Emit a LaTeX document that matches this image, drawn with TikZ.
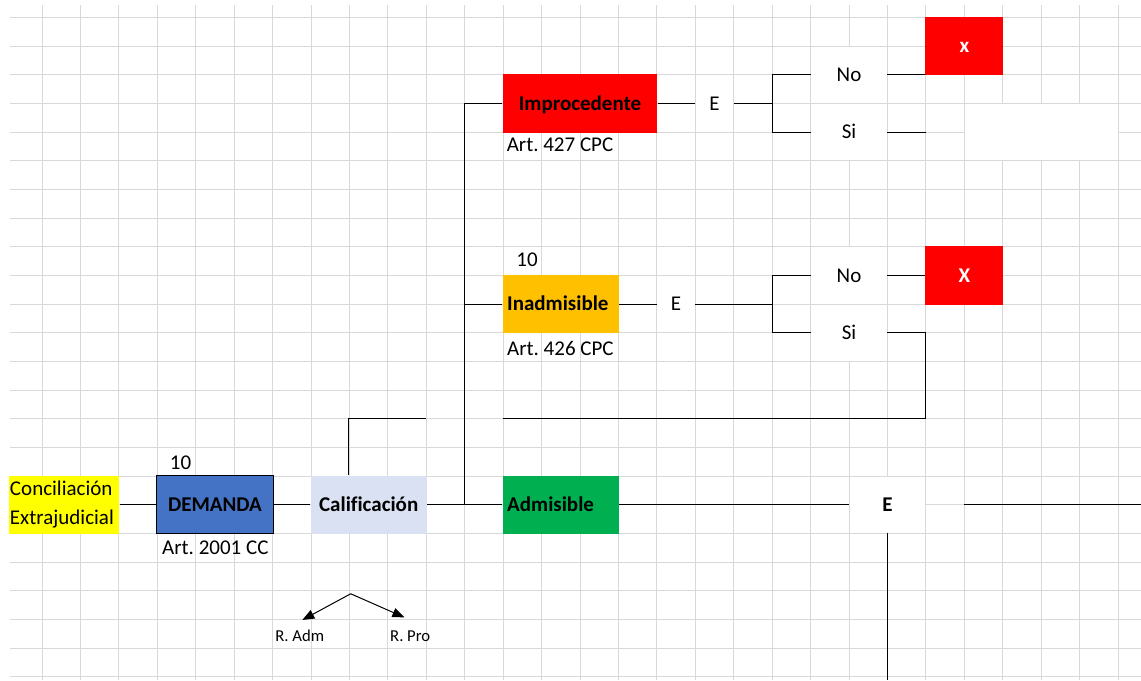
\documentclass[tikz,border=0pt]{standalone}
\usepackage{fontspec}
\setmainfont[Ligatures=NoCommon]{Carlito}
\frenchspacing
\usetikzlibrary{arrows.meta}
\definecolor{gridgray}{RGB}{217,217,217}
\definecolor{concilyellow}{RGB}{255,255,0}
\definecolor{demblue}{RGB}{68,114,196}
\definecolor{califblue}{RGB}{217,225,242}
\definecolor{admgreen}{RGB}{0,176,80}
\definecolor{inadmgold}{RGB}{255,192,0}
\definecolor{xred}{RGB}{255,0,0}
\tikzset{every picture/.style={line width=0.75pt}}
\tikzset{
  gridline/.style={draw=gridgray, line width=0.75pt},
  cellbox/.style 2 args={inner sep=0pt, minimum width=#1*28.82pt+0.75pt, minimum height=#2*21.495pt+0.75pt},
  whitecell/.style 2 args={inner sep=0pt, fill=white, minimum width=#1*28.82pt-0.8pt, minimum height=#2*21.495pt-0.8pt, oneline},
  oneline/.style={text height=10.1pt, text depth=0pt},
  leftcell/.style={align=left, text width=80.46pt, inner xsep=3pt},
  splitarrow/.style={-{Triangle[length=9pt,width=7pt]}}
}

\begin{document}
\begin{tikzpicture}[x=28.82pt,y=-21.495pt,font=\fontsize{15.75pt}{21.75pt}\selectfont]
	\useasboundingbox (-0.0937,-0.6106) rectangle (29.597,23.116);
	
	%Sheet grid
	\foreach \i in {1,...,29}
		\draw [gridline] (\i,-0.436) -- (\i,23.116) ;
	\foreach \j in {0,...,23}
		\draw [gridline] (0.1665,\j) -- (29.597,\j) ;
	%Shape: blank cells right of Si
	\fill [white] (25.014,3.02) rectangle (28.986,4.98) ;
	
	%Shape: Rectangle
	\node [cellbox={2.8335}{2}, fill=concilyellow, text width=81.66pt, align=left] (concil) at (1.583,17) {Conciliación\\Extrajudicial};
	%Shape: Rectangle
	\node [cellbox={3}{2}, oneline, fill=demblue, draw=black] (demanda) at (5.5,17) {\textbf{DEMANDA}};
	%Shape: Rectangle
	\node [cellbox={3}{2}, oneline, fill=califblue] (calif) at (9.5,17) {\textbf{Calificación}};
	%Shape: Rectangle
	\node [cellbox={3}{2}, oneline, leftcell, fill=admgreen] (admis) at (14.5,17) {\textbf{Admisible}};
	%Shape: Rectangle
	\node [cellbox={4}{2}, oneline, fill=xred] (improc) at (15,3) {\textbf{Improcedente}};
	%Shape: Rectangle
	\node [cellbox={3}{2}, oneline, leftcell, fill=inadmgold] (inadm) at (14.5,10) {\textbf{Inadmisible}};
	%Shape: Rectangle
	\node [cellbox={2}{2}, oneline, fill=xred, text=white] (xbox1) at (25,1) {\textbf{x}};
	%Shape: Rectangle
	\node [cellbox={2}{2}, oneline, fill=xred, text=white] (xbox2) at (25,9) {\textbf{X}};
	
	% Text Node
	\node [whitecell={1}{2}] (eimp) at (18.5,3) {E};
	% Text Node
	\node [whitecell={1}{2}] (einad) at (17.5,10) {E};
	% Text Node
	\node [whitecell={2}{2}] (eadm) at (23,17) {\textbf{E}};
	% Text Node
	\node [whitecell={2}{2}] (no1) at (22,2) {No};
	% Text Node
	\node [whitecell={2}{2}] (si1) at (22,4) {Si};
	% Text Node
	\node [whitecell={2}{2}] (no2) at (22,9) {No};
	% Text Node
	\node [whitecell={2}{2}] (si2) at (22,11) {Si};
	% Text Node
	\node [anchor=base east, inner sep=0pt] (demnum) at (4.895,15.76) {10};
	% Text Node
	\node [anchor=base west, inner sep=0pt] (demart) at (4.114,18.75) {Art. 2001 CC};
	% Text Node
	\node [anchor=base east, inner sep=0pt] (inadmnum) at (13.91,8.695) {10};
	% Text Node
	\node [anchor=base west, inner sep=0pt] (inadmart) at (13.09,11.78) {Art. 426 CPC};
	% Text Node
	\node [anchor=base west, inner sep=0pt] (improcart) at (13.08,4.68) {Art. 427 CPC};
	% Text Node
	\node [anchor=base, inner sep=0pt, font=\fontsize{12.5pt}{15pt}\selectfont] (radm) at (7.706,21.78) {R. Adm};
	% Text Node
	\node [anchor=base, inner sep=0pt, font=\fontsize{12.5pt}{15pt}\selectfont] (rpro) at (10.58,21.78) {R. Pro};
	
	\coordinate (califend) at (11,14);
	\coordinate (trunk) at (12,17);
	\coordinate (fork1) at (20,3);
	\coordinate (fork2) at (20,10);
	\coordinate (si1end) at (24,4);
	\coordinate (loopcorner) at (24,14);
	\coordinate (loopend) at (13,14);
	\coordinate (eadmout) at (25,17);
	\coordinate (rightend) at (29.597,17);
	\coordinate (downend) at (23,23.116);
	\coordinate (califsplit) at (9.032,20.105);
	\coordinate (radmtip) at (7.773,21.02);
	\coordinate (rprotip) at (10.43,20.93);
	
	%Straight Lines
	\draw (concil.east) -- (demanda.west) ;
	\draw (demanda.east) -- (calif.west) ;
	\draw ([xshift=28.82pt]calif.north west) |- (califend) ;
	\draw (calif.east) -- (admis.west) ;
	\draw (improc.west) -| (trunk) ;
	\draw (inadm.west) -- (inadm.west -| trunk) ;
	\draw (improc.east) -- (eimp.west) ;
	\draw (eimp.east) -- (fork1) ;
	\draw (no1.west) -| (fork1) |- (si1.west) ;
	\draw (no1.east) -- (no1.east -| xbox1.west) ;
	\draw (si1.east) -- (si1end) ;
	\draw (inadm.east) -- (einad.west) ;
	\draw (einad.east) -- (fork2) ;
	\draw (no2.west) -| (fork2) |- (si2.west) ;
	\draw (no2.east) -- (xbox2.west) ;
	\draw (si2.east) -| (loopcorner) -- (loopend) ;
	\draw (admis.east) -- (eadm.west) ;
	\draw (eadmout) -- (rightend) ;
	\draw (eadm.south) -- (downend) ;
	%Arrows
	\draw [splitarrow] (califsplit) -- (radmtip) ;
	\draw [splitarrow] (califsplit) -- (rprotip) ;
\end{tikzpicture}
\end{document}
